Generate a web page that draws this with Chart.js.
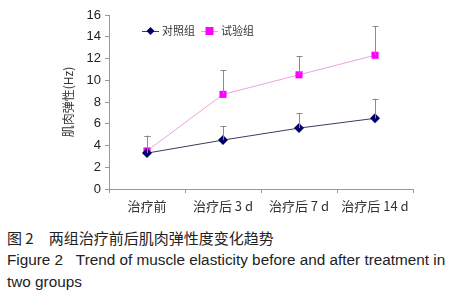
<!DOCTYPE html>
<html>
<head>
<meta charset="utf-8">
<script src="https://cdn.jsdelivr.net/npm/chart.js@4"></script>
<style>
  html, body { margin: 0; padding: 0; background: #fff; }
  #wrap { width: 473px; height: 300px; position: relative; }
  #box { position: absolute; left: 0; top: 0; width: 473px; height: 218px; }
  .cap { position: absolute; left: 7px; font-family: "Liberation Sans", Arial, "Noto Sans CJK SC", sans-serif; color: #222; font-size: 15.3px; white-space: nowrap; }
  #cap1 { top: 227px; font-family: "Noto Sans CJK SC", sans-serif; font-size: 15px; }
  #cap2 { top: 251px; }
  #cap3 { top: 273px; }
</style>
</head>
<body>
<div id="wrap">
  <div id="box"><canvas id="chart"></canvas></div>
  <div class="cap" id="cap1">图 2　两组治疗前后肌肉弹性度变化趋势</div>
  <div class="cap" id="cap2">Figure 2&nbsp;&nbsp;&nbsp;Trend of muscle elasticity before and after treatment in</div>
  <div class="cap" id="cap3">two groups</div>
</div>
<script>
  // 数据
  var categories = ['治疗前', '治疗后 3 d', '治疗后 7 d', '治疗后 14 d'];
  var controlMean = [3.3, 4.5, 5.6, 6.5];
  var controlSd = [1.6, 1.3, 1.4, 1.8];
  var trialMean = [3.5, 8.7, 10.5, 12.3];
  var trialSd = [1.4, 2.2, 1.7, 2.7];
  var yTicks = [0, 2, 4, 6, 8, 10, 12, 14, 16];

  var tickFont = { family: '"Liberation Sans", Arial, sans-serif', size: 13 };
  var cjkFont = '"Noto Sans CJK SC", sans-serif';

  // 误差线（只画上方）
  var errorBars = {
    id: 'errorBars',
    afterDatasetsDraw: function(chart) {
      var ctx = chart.ctx;
      var y = chart.scales.y;
      ctx.save();
      ctx.strokeStyle = '#8a8a8a';
      ctx.lineWidth = 1;
      chart.data.datasets.forEach(function(ds, di) {
        var meta = chart.getDatasetMeta(di);
        meta.data.forEach(function(pt, i) {
          var top = y.getPixelForValue(ds.data[i] + ds.sd[i]);
          var x = Math.round(pt.x) + 0.5;
          ctx.beginPath();
          ctx.moveTo(x, pt.y);
          ctx.lineTo(x, top);
          ctx.moveTo(x - 3, Math.round(top) + 0.5);
          ctx.lineTo(x + 3, Math.round(top) + 0.5);
          ctx.stroke();
        });
      });
      ctx.restore();
    }
  };

  // 图例（画在图内）
  var innerLegend = {
    id: 'innerLegend',
    afterDraw: function(chart) {
      var ctx = chart.ctx;
      var x = 142, y = 31;
      ctx.save();
      ctx.font = '11px ' + cjkFont;
      ctx.textBaseline = 'middle';
      chart.data.datasets.forEach(function(ds) {
        ctx.strokeStyle = ds.borderColor;
        ctx.lineWidth = 1;
        ctx.beginPath();
        ctx.moveTo(x, y + 0.5);
        ctx.lineTo(x + 17, y + 0.5);
        ctx.stroke();
        ctx.fillStyle = ds.pointBackgroundColor;
        var cx = x + 8.5;
        if (ds.pointStyle === 'rectRot') {
          ctx.beginPath();
          ctx.moveTo(cx, y - 4); ctx.lineTo(cx + 4, y); ctx.lineTo(cx, y + 4); ctx.lineTo(cx - 4, y);
          ctx.closePath(); ctx.fill();
        } else {
          ctx.fillRect(cx - 4, y - 4, 8, 8);
        }
        ctx.fillStyle = '#333';
        ctx.fillText(ds.label, x + 20, y);
        x += 59;
      });
      ctx.restore();
    }
  };

  new Chart(document.getElementById('chart'), {
    type: 'line',
    data: {
      labels: categories,
      datasets: [{
        label: '对照组',
        data: controlMean,
        sd: controlSd,
        borderColor: '#3c3c5a',
        borderWidth: 1,
        pointStyle: 'rectRot',
        pointRadius: 5,
        pointBackgroundColor: '#000066',
        pointBorderColor: '#000066',
        pointBorderWidth: 0,
        tension: 0
      }, {
        label: '试验组',
        data: trialMean,
        sd: trialSd,
        borderColor: '#e9a3e2',
        borderWidth: 1,
        pointStyle: 'rect',
        pointRadius: 5,
        pointBackgroundColor: '#ff00ff',
        pointBorderColor: '#ff00ff',
        pointBorderWidth: 0,
        tension: 0
      }]
    },
    options: {
      responsive: true,
      maintainAspectRatio: false,
      animation: false,
      layout: { padding: { left: 61, right: 60, top: 15, bottom: 0 } },
      plugins: {
        legend: { display: false },
        tooltip: { enabled: false }
      },
      scales: {
        x: {
          offset: true,
          grid: { offset: true, drawOnChartArea: false, drawTicks: true, tickLength: 4, color: '#999' },
          border: { color: '#999' },
          ticks: { color: '#333', font: { family: cjkFont, size: 13 }, padding: 5 },
          afterFit: function(s) { s.height = 29; }
        },
        y: {
          min: 0, max: 16,
          afterBuildTicks: function(s) { s.ticks = yTicks.map(function(v) { return { value: v }; }); },
          grid: { drawOnChartArea: false, drawTicks: true, tickLength: 4, color: '#999' },
          border: { color: '#999' },
          ticks: { color: '#222', font: tickFont, padding: 4 },
          title: { display: true, text: '肌肉弹性(Hz)', color: '#333', font: { family: cjkFont, size: 12 }, padding: { top: 0, bottom: 6 } },
          afterFit: function(s) { s.width = 48; }
        }
      }
    },
    plugins: [errorBars, innerLegend]
  });
</script>
</body>
</html>
